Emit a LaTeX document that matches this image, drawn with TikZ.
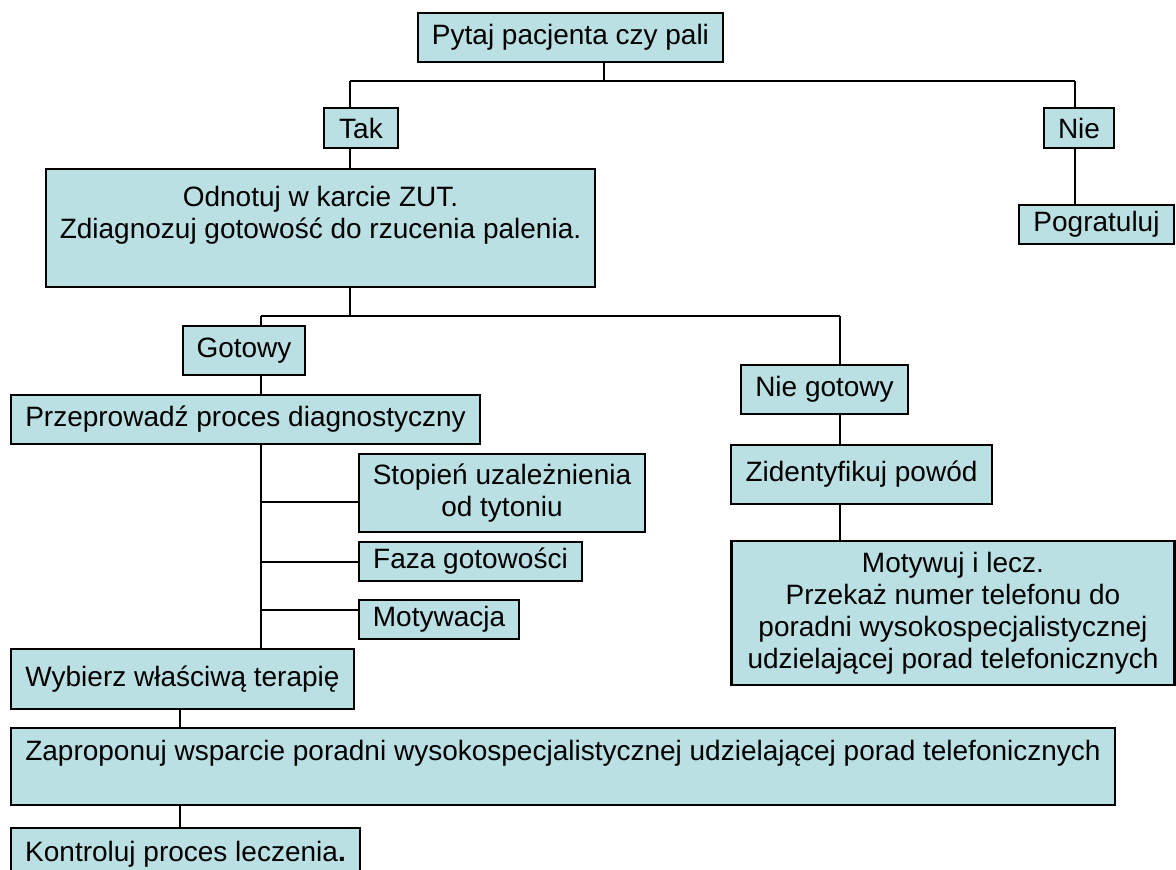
\documentclass[tikz,border=0pt]{standalone}
\usepackage{fontspec}
\setmainfont{Liberation Sans}
\definecolor{boxfill}{RGB}{187,224,227}
\begin{document}
\begin{tikzpicture}[x=1pt,y=-1pt,
  flowbox/.style={draw=black, fill=boxfill, line width=2.2pt, inner sep=0pt,
    align=center, font=\fontsize{28}{32}\selectfont, anchor=center},
  conn/.style={draw=black, line width=1.7pt}]
\useasboundingbox (0,0) rectangle (1176,870);
% nodes
\node[flowbox, minimum width=305, minimum height=49] (top) at (570.5,37.5) {Pytaj pacjenta czy pali};
\node[flowbox, minimum width=74, minimum height=40] (tak) at (361,128) {Tak};
\node[flowbox, minimum width=70, minimum height=40] (nie) at (1079,128) {Nie};
\node[flowbox, minimum width=155, minimum height=39] (pog) at (1096.5,224.5) {Pogratuluj};
\node[flowbox, minimum width=549, minimum height=118] (big) at (320.5,228) {Odnotuj w karcie ZUT.\\Zdiagnozuj gotowość do rzucenia palenia.\\\mbox{}};
\node[flowbox, minimum width=122, minimum height=49] (got) at (244,350.5) {Gotowy};
\node[flowbox, minimum width=469, minimum height=49] (prz) at (245.5,419.5) {Przeprowadź proces diagnostyczny};
\node[flowbox, minimum width=286, minimum height=78] (sto) at (502,493) {Stopień uzależnienia\\od tytoniu};
\node[flowbox, minimum width=223, minimum height=39] (faz) at (470.5,561.5) {Faza gotowości};
\node[flowbox, minimum width=160, minimum height=39] (motw) at (439,619.5) {Motywacja};
\node[flowbox, minimum width=343, minimum height=60] (wyb) at (182.5,679) {Wybierz właściwą terapię};
\node[flowbox, minimum width=1104, minimum height=77] (zap) at (563,766.5) {Zaproponuj wsparcie poradni wysokospecjalistycznej udzielającej porad telefonicznych\\\mbox{}};
\node[flowbox, minimum width=349, minimum height=52] (kon) at (185.5,854) {Kontroluj proces leczenia{\bfseries .}};
\node[flowbox, minimum width=167, minimum height=49] (ng) at (824.5,389.5) {Nie gotowy};
\node[flowbox, minimum width=261, minimum height=59] (zid) at (861.5,474.5) {Zidentyfikuj powód};
\node[flowbox, minimum width=443, minimum height=144] (mot) at (953,613) {Motywuj i lecz.\\Przekaż numer telefonu do\\poradni wysokospecjalistycznej\\udzielającej porad telefonicznych};
% junctions
\coordinate (j1) at (604,81);
\coordinate (a1) at (350,81);
\coordinate (a2) at (1075,81);
\coordinate (b0) at (350,316);
\coordinate (b1) at (261,316);
\coordinate (b2) at (840,316);
\coordinate (c1) at (261,502);
\coordinate (c2) at (261,562);
\coordinate (c3) at (261,610);
\coordinate (d1) at (180,700);
% connectors
\draw[conn] (top.south -| j1) -- (j1);
\draw[conn] (a1) -- (a2);
\draw[conn] (a1) -- (a1 |- tak.north);
\draw[conn] (a1 |- tak.south) -- (a1 |- big.north);
\draw[conn] (a2) -- (a2 |- nie.north);
\draw[conn] (a2 |- nie.south) -- (a2 |- pog.north);
\draw[conn] (big.south -| b0) -- (b0);
\draw[conn] (b1) -- (b2);
\draw[conn] (b1) -- (b1 |- got.north);
\draw[conn] (b1 |- got.south) -- (b1 |- prz.north);
\draw[conn] (b1 |- prz.south) -- (b1 |- wyb.north);
\draw[conn] (c1) -- (c1 -| sto.west);
\draw[conn] (c2) -- (c2 -| faz.west);
\draw[conn] (c3) -- (c3 -| motw.west);
\draw[conn] (b2) -- (b2 |- ng.north);
\draw[conn] (b2 |- ng.south) -- (b2 |- zid.north);
\draw[conn] (b2 |- zid.south) -- (b2 |- mot.north);
\draw[conn] (d1 |- wyb.south) -- (d1 |- zap.north);
\draw[conn] (d1 |- zap.south) -- (d1 |- kon.north);
\end{tikzpicture}
\end{document}
